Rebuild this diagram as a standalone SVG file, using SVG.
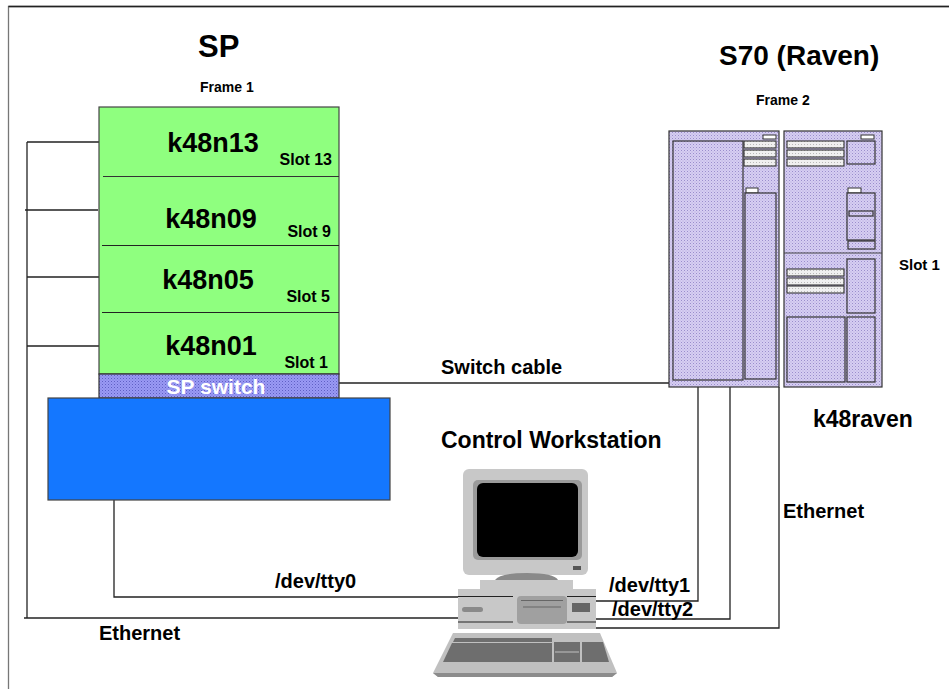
<svg xmlns="http://www.w3.org/2000/svg" width="949" height="689" viewBox="0 0 949 689">
  <defs>
    <pattern id="lavDots" width="3" height="3" patternUnits="userSpaceOnUse">
      <rect width="3" height="3" fill="#d6cef2"/>
      <rect width="1" height="1" fill="#9a8dcc"/>
      <rect x="1.5" y="1.5" width="1" height="1" fill="#b3a8dd"/>
    </pattern>
    <pattern id="stripDots" width="3" height="3" patternUnits="userSpaceOnUse">
      <rect width="3" height="3" fill="#f0f0f0"/>
      <rect width="1" height="1" fill="#b8b8b8"/>
    </pattern>
    <pattern id="switchDots" width="3" height="3" patternUnits="userSpaceOnUse">
      <rect width="3" height="3" fill="#9a9af4"/>
      <rect width="1" height="1" fill="#5f5fc4"/>
      <rect x="1.5" y="1.5" width="1" height="1" fill="#7676d8"/>
    </pattern>
  </defs>
  <style>
    text { font-family: "Liberation Sans", Arial, sans-serif; font-weight: bold; fill: #000; }
    .title { font-size: 31px; }
    .node { font-size: 27px; text-anchor: middle; }
    .slot { font-size: 16px; text-anchor: end; }
    .small { font-size: 14px; }
    .lbl { font-size: 20px; }
    .wire { fill: none; stroke: #222; stroke-width: 1.3; }
    .cab { fill: url(#lavDots); stroke: #333; stroke-width: 1.2; }
    .strip { fill: url(#stripDots); stroke: #333; stroke-width: 1.1; }
    .tab { fill: #fff; stroke: #333; stroke-width: 1; }
    .nodebox { fill: #8fff7f; }
  </style>

  <rect width="949" height="689" fill="#fff"/>
  <!-- page frame -->
  <path d="M8.5,689 V6.5 H949" fill="none" stroke="#777" stroke-width="1.3"/>
  <path d="M8.5,6.5 H949" fill="none" stroke="#222" stroke-width="1.3"/>

  <!-- connectors -->
  <g id="connectors">
    <!-- SP ethernet bus -->
    <path class="wire" d="M27,142 V618"/>
    <path class="wire" d="M27,142 H99 M25,210 H98 M27,277 H99 M27,346 H99"/>
    <path class="wire" d="M24,618 H459"/>
    <!-- tty0 -->
    <path class="wire" d="M114,500 V597 H459"/>
    <!-- switch cable -->
    <path class="wire" d="M339,383 H669"/>
    <!-- raven serial + ethernet -->
    <path class="wire" d="M698,387 V601 H592"/>
    <path class="wire" d="M730,387 V619 H596"/>
    <path class="wire" d="M779,387 V628 H596"/>
  </g>

  <!-- SP frame -->
  <g id="sp-title"><text class="title" x="198" y="57">SP</text></g>
  <g id="frame1-label"><text class="small" x="200" y="92">Frame 1</text></g>
  <g id="frame1">
    <rect class="nodebox" x="99" y="107" width="240" height="267" stroke="#444" stroke-width="1.2"/>
  </g>
  <g id="k48n13">
    <text class="node" x="213" y="152">k48n13</text>
    <text class="slot" x="332" y="165">Slot 13</text>
  </g>
  <g id="k48n09">
    <path d="M103,176.5 H339" stroke="#333" stroke-width="1.2"/>
    <text class="node" x="211" y="228">k48n09</text>
    <text class="slot" x="331" y="237">Slot 9</text>
  </g>
  <g id="k48n05">
    <path d="M102,245.5 H339" stroke="#222" stroke-width="1.2"/>
    <text class="node" x="208" y="289">k48n05</text>
    <text class="slot" x="330" y="302">Slot 5</text>
  </g>
  <g id="k48n01">
    <path d="M102,312.5 H339" stroke="#222" stroke-width="1.2"/>
    <text class="node" x="211" y="355">k48n01</text>
    <text class="slot" x="328" y="368">Slot 1</text>
  </g>
  <g id="sp-switch">
    <rect x="99" y="374" width="240" height="24" fill="url(#switchDots)" stroke="#333" stroke-width="1.2"/>
    <text x="216" y="394" font-size="21" text-anchor="middle" style="fill:#fff">SP switch</text>
  </g>
  <g id="sp-base">
    <rect x="48" y="398" width="342" height="102" fill="#1477ff" stroke="#444" stroke-width="1.2"/>
  </g>

  <!-- S70 -->
  <g id="s70-title"><text x="719" y="65" font-size="28">S70 (Raven)</text></g>
  <g id="frame2-label"><text class="small" x="756" y="105">Frame 2</text></g>
  <g id="k48raven">
    <!-- left cabinet -->
    <rect class="cab" x="669" y="131" width="110" height="256"/>
    <rect class="cab" x="673" y="141" width="70" height="239"/>
    <rect class="tab" x="763" y="135" width="13" height="4"/>
    <rect class="strip" x="744" y="141" width="32" height="7"/>
    <rect class="strip" x="744" y="150" width="32" height="7"/>
    <rect class="strip" x="744" y="159" width="32" height="7"/>
    <rect class="tab" x="746" y="188" width="12" height="5"/>
    <rect class="cab" x="745" y="193" width="31" height="186"/>
    <!-- right cabinet -->
    <rect class="cab" x="784" y="131" width="98" height="256"/>
    <rect class="tab" x="861" y="135" width="13" height="4"/>
    <rect class="strip" x="787" y="141" width="57" height="7"/>
    <rect class="strip" x="787" y="150" width="57" height="7"/>
    <rect class="strip" x="787" y="159" width="57" height="7"/>
    <rect class="cab" x="847" y="141" width="28" height="23"/>
    <rect class="tab" x="848" y="188" width="13" height="5"/>
    <rect class="cab" x="847" y="193" width="28" height="47"/>
    <rect class="cab" x="849" y="211" width="24" height="5"/>
    <rect class="cab" x="848" y="241" width="27" height="8"/>
    <path d="M784,253 H882" stroke="#444" stroke-width="1.2"/>
    <rect class="strip" x="787" y="269" width="57" height="7"/>
    <rect class="strip" x="787" y="278" width="57" height="7"/>
    <rect class="strip" x="787" y="286" width="57" height="7"/>
    <rect class="cab" x="847" y="259" width="28" height="54"/>
    <rect class="cab" x="787" y="317" width="58" height="65"/>
    <rect class="cab" x="847" y="317" width="28" height="65"/>
    <text x="899" y="270" font-size="15">Slot 1</text>
    <text x="813" y="427" font-size="23">k48raven</text>
  </g>

  <!-- control workstation -->
  <g id="cws">
    <text x="441" y="448" font-size="23">Control Workstation</text>
    <!-- monitor -->
    <rect x="463" y="469" width="125" height="106" rx="6" fill="#c8c8c8"/>
    <rect x="473" y="480" width="109" height="80" rx="5" fill="#9a9a9a"/>
    <rect x="477" y="483" width="101" height="74" rx="6" fill="#000"/>
    <rect x="573" y="566" width="8" height="4" fill="#555"/>
    <path d="M495,580 Q500,573 527,573 Q554,573 558,580 Z" fill="#8a8a8a"/>
    <rect x="480" y="580" width="93" height="9" fill="#c8c8c8"/>
    <!-- system unit -->
    <rect x="458" y="589" width="138" height="40" fill="#c8c8c8"/>
    <path d="M458,596.5 H513 M567,596.5 H596 M458,622 H513 M567,622 H596" stroke="#222" stroke-width="1.2"/>
    <rect x="462" y="607" width="21" height="5" rx="2.5" fill="#8a8a8a"/>
    <rect x="517" y="596" width="50" height="28" rx="4" fill="#a0a0a0"/>
    <path d="M521,600.5 H563 M523,607 H561" stroke="#666" stroke-width="1.2"/>
    <rect x="572" y="603" width="18" height="9" fill="#666"/>
    <!-- keyboard -->
    <path d="M453,633 H600 L617,673 L612,677 H438 L433,673 Z" fill="#c0c0c0"/>
    <path d="M433,673 H617 L612,677 H438 Z" fill="#8c8c8c"/>
    <path d="M455,638 H552 V642 H453 Z" fill="#6e6e6e"/>
    <path d="M452,643 H552 V662 H443 Z" fill="#6e6e6e"/>
    <rect x="554" y="642" width="26" height="20" fill="#6e6e6e"/>
    <path d="M555,652 H579" stroke="#c0c0c0" stroke-width="1"/>
    <path d="M582,642 H603 L609,662 H582 Z" fill="#6e6e6e"/>
  </g>

  <!-- connector labels -->
  <g id="labels">
    <text class="lbl" x="441" y="374">Switch cable</text>
    <text class="lbl" x="275" y="588">/dev/tty0</text>
    <text class="lbl" x="609" y="592">/dev/tty1</text>
    <text class="lbl" x="612" y="616">/dev/tty2</text>
    <text class="lbl" x="99" y="640">Ethernet</text>
    <text class="lbl" x="783" y="518">Ethernet</text>
  </g>
</svg>
